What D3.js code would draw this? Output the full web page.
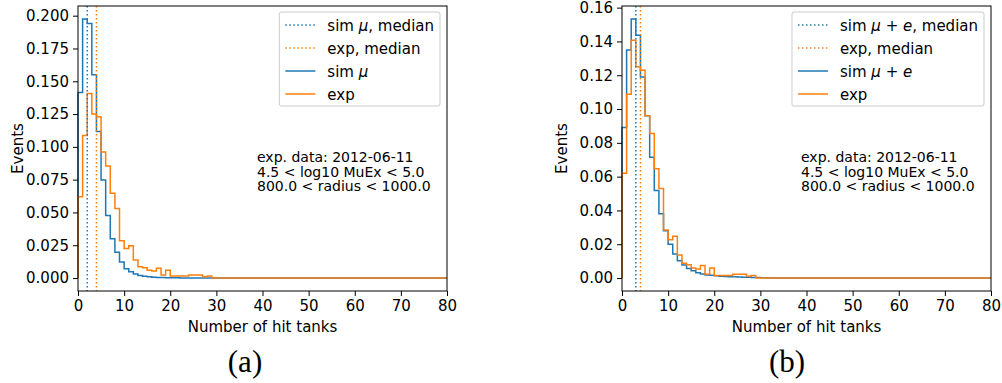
<!DOCTYPE html>
<html>
<head>
<meta charset="utf-8">
<script src="https://cdn.jsdelivr.net/npm/d3@7"></script>
<style>
  body { margin: 0; background: #fff; }
  svg { display: block; font-family: "DejaVu Sans", sans-serif; }
</style>
</head>
<body>
<svg id="chart" width="1002" height="383"></svg>
<script>
// histogram contents, one value per unit bin starting at 0 (normalised)
var simMu = [0.1415, 0.1975, 0.194, 0.155, 0.1117, 0.0748, 0.0476, 0.030, 0.0196, 0.0122,
             0.0071, 0.0048, 0.003, 0.002, 0.0013, 0.001, 0.0007, 0.0005, 0.0004, 0.0003,
             0.0002, 0.0002, 0.0001, 0.0001, 0.0001];
var simMuE = [0.0891, 0.135, 0.1533, 0.1436, 0.119, 0.096, 0.0715, 0.0518, 0.038, 0.028,
              0.020, 0.0142, 0.0103, 0.0077, 0.0057, 0.0043, 0.0032, 0.0024, 0.0018, 0.0016,
              0.0013, 0.0011, 0.0009, 0.0008, 0.0007, 0.0006, 0.0005, 0.0004, 0.0003, 0.0003,
              0.0002, 0.0002, 0.0001, 0.0001];
var expData = [0.062, 0.1087, 0.1407, 0.125, 0.123, 0.096, 0.0855, 0.0646, 0.053, 0.0285,
               0.0226, 0.0247, 0.0137, 0.0087, 0.0079, 0.006, 0.0053, 0.0074, 0.0023, 0.0059,
               0.0015, 0.0015, 0.0015, 0.0015, 0.0023, 0.0023, 0.0023, 0.001, 0.0015];

var medianSimMu = 2, medianSimMuE = 3, medianExp = 4;
var xTicks = [0, 10, 20, 30, 40, 50, 60, 70, 80];
var yTicksA = [0, 0.025, 0.05, 0.075, 0.1, 0.125, 0.15, 0.175, 0.2];
var yTicksB = [0, 0.02, 0.04, 0.06, 0.08, 0.1, 0.12, 0.14, 0.16];
var infoLines = ["exp. data: 2012-06-11", "4.5 < log10 MuEx < 5.0", "800.0 < radius < 1000.0"];

var blue = "#1f77b4", orange = "#ff7f0e";
var svg = d3.select("#chart");

function panel(opt) {
  var left = opt.left, top = 6, w = 369, h = 285;
  var g = svg.append("g").attr("transform", "translate(" + left + "," + top + ")");

  var x = d3.scaleLinear().domain([0, 80]).range([0, w]);
  var ymax = d3.max(opt.sim.concat(expData));
  var pad = ymax * 0.05;
  var y = d3.scaleLinear().domain([-pad, ymax + pad]).range([h, 0]);

  // step histograms
  function stepPath(vals) {
    var pts = [[0, 0]];
    vals.forEach(function(v, i) { pts.push([i, v]); });
    pts.push([vals.length, 0]);
    pts.push([80, 0]);
    return d3.line().x(function(d) { return x(d[0]); }).y(function(d) { return y(d[1]); })
      .curve(d3.curveStepAfter)(pts);
  }
  g.append("path").attr("d", stepPath(opt.sim)).attr("fill", "none")
    .attr("stroke", blue).attr("stroke-width", 1.5).attr("stroke-linejoin", "miter");
  g.append("path").attr("d", stepPath(expData)).attr("fill", "none")
    .attr("stroke", orange).attr("stroke-width", 1.5).attr("stroke-linejoin", "miter");

  // median lines
  [[opt.median, blue], [medianExp, orange]].forEach(function(m) {
    g.append("line").attr("x1", x(m[0])).attr("x2", x(m[0])).attr("y1", 0).attr("y2", h)
      .attr("stroke", m[1]).attr("stroke-width", 1.5).attr("stroke-dasharray", "1.5,2.5");
  });

  // axes
  var xa = g.append("g").attr("transform", "translate(0," + h + ")")
    .call(d3.axisBottom(x).tickValues(xTicks).tickSize(5).tickPadding(4).tickFormat(d3.format("d")));
  var ya = g.append("g")
    .call(d3.axisLeft(y).tickValues(opt.yTicks).tickSize(5).tickPadding(4).tickFormat(d3.format(opt.fmt)));
  [xa, ya].forEach(function(a) {
    a.select(".domain").remove();
    a.selectAll("text").attr("font-size", 15).attr("font-family", "DejaVu Sans").attr("fill", "#000");
    a.selectAll("line").attr("stroke", "#000").attr("stroke-width", 1);
  });
  g.append("rect").attr("x", 0).attr("y", 0).attr("width", w).attr("height", h)
    .attr("fill", "none").attr("stroke", "#000").attr("stroke-width", 1);

  g.append("text").attr("x", w / 2).attr("y", h + 41).attr("text-anchor", "middle")
    .attr("font-size", 15).text("Number of hit tanks");
  g.append("text").attr("transform", "translate(" + (-55) + "," + (h / 2) + ") rotate(-90)")
    .attr("text-anchor", "middle").attr("font-size", 15).text("Events");

  // info text
  var info = g.append("text").attr("x", 179).attr("y", 156).attr("font-size", 14);
  infoLines.forEach(function(t, i) {
    info.append("tspan").attr("x", 179).attr("dy", i === 0 ? 0 : 14.5).text(t);
  });

  // legend
  var leg = g.append("g");
  var rows = [
    { label: opt.labelMed, color: blue, dash: "1.5,2.5" },
    { label: [["exp, median"]], color: orange, dash: "1.5,2.5" },
    { label: opt.labelSim, color: blue, dash: null },
    { label: [["exp"]], color: orange, dash: null }
  ];
  var box = leg.append("rect");
  var texts = [];
  rows.forEach(function(r, i) {
    var cy = 19 + i * 23;
    var t = leg.append("text").attr("y", cy + 5.5).attr("font-size", 15);
    r.label.forEach(function(part) {
      var ts = t.append("tspan").text(part[0]);
      if (part[1]) ts.attr("font-style", "italic");
    });
    texts.push(t);
    r.cy = cy;
  });
  var tw = d3.max(texts, function(t) { return t.node().getComputedTextLength(); });
  var bw = 6 + 30 + 12 + tw + 6;
  var bx = w - 7 - bw;
  box.attr("x", bx).attr("y", 6).attr("width", bw).attr("height", 94).attr("rx", 2)
    .attr("fill", "#fff").attr("fill-opacity", 0.8).attr("stroke", "#ccc").attr("stroke-width", 1);
  rows.forEach(function(r, i) {
    leg.append("line").attr("x1", bx + 6).attr("x2", bx + 36).attr("y1", r.cy).attr("y2", r.cy)
      .attr("stroke", r.color).attr("stroke-width", 1.5).attr("stroke-dasharray", r.dash);
    texts[i].attr("x", bx + 48);
  });
}

panel({ left: 78, sim: simMu, median: medianSimMu, yTicks: yTicksA, fmt: ".3f",
        labelMed: [["sim "], ["μ", true], [", median"]], labelSim: [["sim "], ["μ", true]] });
panel({ left: 622, sim: simMuE, median: medianSimMuE, yTicks: yTicksB, fmt: ".2f",
        labelMed: [["sim "], ["μ", true], [" + "], ["e", true], [", median"]],
        labelSim: [["sim "], ["μ", true], [" + "], ["e", true]] });

// subfigure captions
svg.append("text").attr("x", 245).attr("y", 372).attr("text-anchor", "middle")
  .attr("font-family", "Liberation Serif").attr("font-size", 31).text("(a)");
svg.append("text").attr("x", 787).attr("y", 372).attr("text-anchor", "middle")
  .attr("font-family", "Liberation Serif").attr("font-size", 31).text("(b)");
</script>
</body>
</html>
